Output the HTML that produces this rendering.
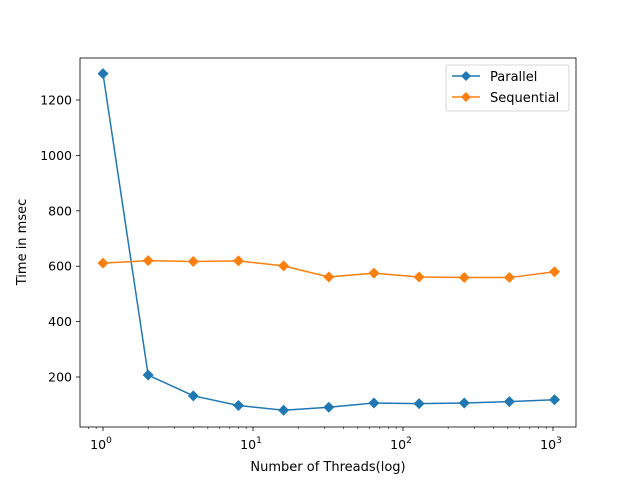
<!DOCTYPE html>
<html><head><meta charset="utf-8"><style>body{margin:0;background:#fff}svg{font-family:"DejaVu Sans","Liberation Sans",sans-serif}</style></head>
<body>
<svg id="chart" width="640" height="480" xmlns="http://www.w3.org/2000/svg">
<rect x="80" y="58" width="496" height="369" fill="none" stroke="#000" stroke-width="0.8"/>
<g id="ticks"></g>
<g id="series"></g>
<text x="328" y="471" font-size="13" text-anchor="middle">Number of Threads(log)</text>
<text x="26" y="242" font-size="13" text-anchor="middle" transform="rotate(-90 26 242)">Time in msec</text>
<g>
<rect x="446" y="65" width="123" height="46" rx="2" fill="#fff" stroke="#ccc" stroke-width="0.8"/>
<g>
<line x1="452" y1="76" x2="480" y2="76" stroke="#1f77b4" stroke-width="1.5"/>
<path d="M466,71 L471,76 L466,81 L461,76Z" fill="#1f77b4"/>
<text x="490" y="81" font-size="13">Parallel</text></g>
<g>
<line x1="452" y1="97" x2="480" y2="97" stroke="#ff7f0e" stroke-width="1.5"/>
<path d="M466,92 L471,97 L466,102 L461,97Z" fill="#ff7f0e"/>
<text x="490" y="102" font-size="13">Sequential</text></g>
</g>
</svg>
<script>
const threads=[1,2,4,8,16,32,64,128,256,512,1024];
const parallel=[1295,207,132,97,80,91,106,104,106,111,118];
const sequential=[611,620,617,619,601,561,575,561,559,559,580];
const yTicks=[200,400,600,800,1000,1200];
const xTicks=[0,1,2,3];
const NS="http://www.w3.org/2000/svg";
const X=v=>103+150*Math.log10(v);
const Y=v=>377-(v-200)*0.277;
const tg=document.getElementById('ticks');
function mk(t,a,p){const e=document.createElementNS(NS,t);for(const k in a)e.setAttribute(k,a[k]);(p||tg).appendChild(e);return e;}
yTicks.forEach(v=>{
 const l=mk('line',{x1:76,x2:80,y1:Y(v),y2:Y(v),stroke:'#000','stroke-width':0.8});
 
 
 const t=mk('text',{x:72,y:Y(v)+4.5,'font-size':12.5,'text-anchor':'end'});t.textContent=v;
 
 
});
xTicks.forEach(p=>{
 const x=X(Math.pow(10,p));
 const l=mk('line',{x1:x,x2:x,y1:427,y2:431,stroke:'#000','stroke-width':0.8});
 
 
 const t=mk('text',{x:x-2,y:449,'font-size':12.5,'text-anchor':'middle'});
 t.innerHTML='10<tspan dy="-6" font-size="9">'+p+'</tspan>';
 
 
 for(let m=2;m<10&&p<3;m++){const xm=X(m*Math.pow(10,p));const ml=mk('line',{x1:xm,x2:xm,y1:427,y2:429,stroke:'#000','stroke-width':0.6});
  
  }
});
[0.5,0.6,0.7,0.8,0.9].forEach(v=>{const xm=X(v);if(xm>80){const ml=mk('line',{x1:xm,x2:xm,y1:427,y2:429,stroke:'#000','stroke-width':0.6});
 
 }});
const sg=document.getElementById('series');
function draw(vals,color,name){
 const g=mk('g',{},sg);
 
 
 const pl=mk('polyline',{points:threads.map((t,i)=>X(t)+','+Y(vals[i])).join(' '),fill:'none',stroke:color,'stroke-width':1.5},g);
 
 
 threads.forEach((t,i)=>{const x=X(t),y=Y(vals[i]);
  const d=mk('path',{d:`M${x},${y-5.5} L${x+5.5},${y} L${x},${y+5.5} L${x-5.5},${y}Z`,fill:color},g);
  
  });
}
draw(parallel,'#1f77b4','parallel');
draw(sequential,'#ff7f0e','sequential');
</script>
</body></html>
